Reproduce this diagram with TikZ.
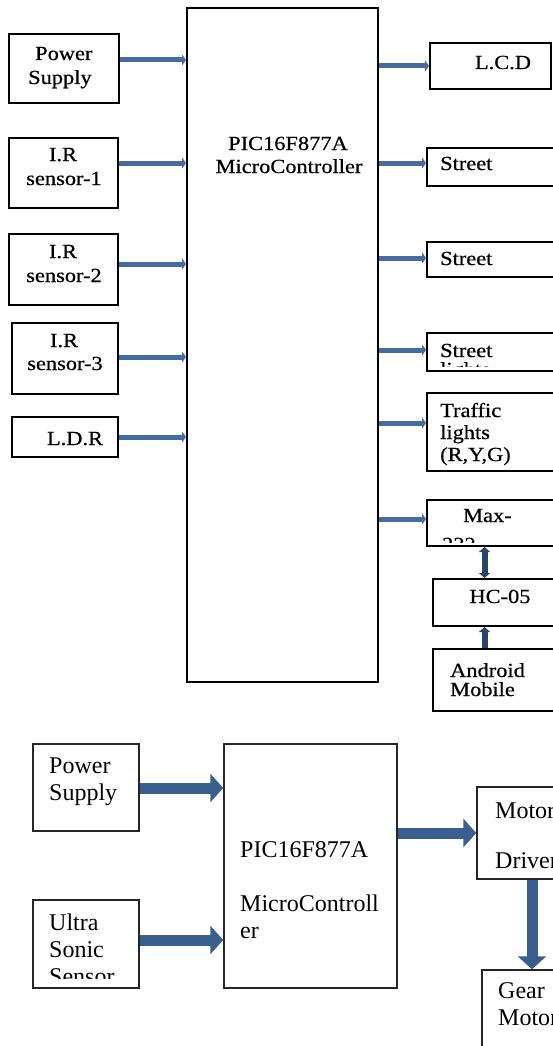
\documentclass[tikz,border=0pt]{standalone}
\usepackage{fontspec}
\setmainfont{Liberation Serif}
\newfontfamily\topf[FakeStretch=1.12,FakeBold=0.6]{Liberation Serif}
\usetikzlibrary{arrows.meta}
\definecolor{cTop}{RGB}{68,108,158}
\definecolor{cBot}{RGB}{58,94,142}
\definecolor{cDark}{RGB}{42,68,104}
\begin{document}
\begin{tikzpicture}[x=1pt,y=-1pt,
  tbox/.style={draw=black,line width=2pt,inner sep=0pt,rectangle},
  bbox/.style={draw=black!85,line width=1.4pt,inner sep=0pt,rectangle},
  ttext/.style={font=\topf\fontsize{20}{22.5}\selectfont,inner sep=0pt},
  btext/.style={font=\fontsize{24}{27}\selectfont,inner sep=0pt,anchor=base west},
  tconn/.style={line width=5pt,cTop,-{Triangle[length=4pt,width=11pt]}},
  vconnb/.style={line width=6pt,cDark,{Triangle[length=5pt,width=11pt]}-{Triangle[length=5pt,width=11pt]}},
  vconn/.style={line width=6pt,cDark,-{Triangle[length=5pt,width=11pt]}},
  bconn/.style={line width=11pt,cBot,-{Triangle[length=13pt,width=28pt]}}]
\useasboundingbox (0,0) rectangle (553,1046);
\clip (0,0) rectangle (553,1046);

% ---------- top diagram boxes ----------
\node[tbox,minimum width=191pt,minimum height=674pt] (mcu) at (282.5,345) {};
\node[tbox,minimum width=110pt,minimum height=69pt] (ps) at (64,68.5) {};
\node[tbox,minimum width=109pt,minimum height=70pt] (ir1) at (63.5,173) {};
\node[tbox,minimum width=109pt,minimum height=71pt] (ir2) at (63.5,269.5) {};
\node[tbox,minimum width=106pt,minimum height=71pt] (ir3) at (65,358.5) {};
\node[tbox,minimum width=106pt,minimum height=40pt] (ldr) at (65,437) {};
\node[tbox,minimum width=121pt,minimum height=46pt] (lcd) at (490.5,66) {};
\node[tbox,minimum width=133pt,minimum height=38pt] (st1) at (493.5,167) {};
\node[tbox,minimum width=133pt,minimum height=35pt] (st2) at (493.5,259.5) {};
\node[tbox,minimum width=133pt,minimum height=38pt] (st3) at (493.5,352) {};
\node[tbox,minimum width=133pt,minimum height=78pt] (tl) at (493.5,432) {};
\node[tbox,minimum width=133pt,minimum height=46pt] (max) at (493.5,523) {};
\node[tbox,minimum width=127pt,minimum height=47pt] (hc) at (496.5,602.5) {};
\node[tbox,minimum width=127pt,minimum height=62pt] (and) at (496.5,680) {};

% ---------- top diagram texts ----------
\node[ttext,anchor=base west] (pst1) at (35,60) {Power};
\node[ttext,anchor=base west] (pst2) at (28,84) {Supply};
\node[ttext,anchor=base] (ir1a) at (63,161) {I.R};
\node[ttext,anchor=base] (ir1b) at (64,185) {sensor-1};
\node[ttext,anchor=base] (ir2a) at (63,258) {I.R};
\node[ttext,anchor=base] (ir2b) at (64,282) {sensor-2};
\node[ttext,anchor=base] (ir3a) at (64,347) {I.R};
\node[ttext,anchor=base] (ir3b) at (65,370) {sensor-3};
\node[ttext,anchor=base] (ldrt) at (75,445) {L.D.R};
\node[ttext,anchor=base] (lcdt) at (503,69) {L.C.D};
\node[ttext,anchor=base] (mcua) at (288,150) {PIC16F877A};
\node[ttext,anchor=base] (mcub) at (289,173) {MicroController};
\node[ttext,anchor=base west] (st1t) at (440,170) {Street};
\node[ttext,anchor=base west] (st2t) at (440,265) {Street};
\node[ttext,anchor=base west] (st3t) at (440,357) {Street};
\begin{scope}
  \clip (428,360) rectangle (553,366);
  \node[ttext,anchor=base west] (st3u) at (440,376) {lights};
\end{scope}
\node[ttext,anchor=base west] (tla) at (440,417) {Traffic};
\node[ttext,anchor=base west] (tlb) at (440,439) {lights};
\node[ttext,anchor=base west] (tlc) at (440,461) {(R,Y,G)};
\node[ttext,anchor=base west] (maxa) at (463,522) {Max-};
\begin{scope}
  \clip (428,525) rectangle (553,542);
  \node[ttext,anchor=base west] (maxb) at (442,551) {232};
\end{scope}
\node[ttext,anchor=base] (hct) at (500,603) {HC-05};
\node[ttext,anchor=base west] (anda) at (450,677) {Android};
\node[ttext,anchor=base west] (andb) at (450,696) {Mobile};

% ---------- top connectors ----------
\coordinate (l1) at (0,60);
\coordinate (l2) at (0,163);
\coordinate (l3) at (0,264);
\coordinate (l4) at (0,357);
\coordinate (l5) at (0,437);
\coordinate (r1) at (0,66);
\coordinate (r2) at (0,163);
\coordinate (r3) at (0,258);
\coordinate (r4) at (0,350);
\coordinate (r5) at (0,423);
\coordinate (r6) at (0,519);
\coordinate (vx) at (484.5,0);
\draw[tconn] (ps.east |- l1) -- (mcu.west |- l1);
\draw[tconn] (ir1.east |- l2) -- (mcu.west |- l2);
\draw[tconn] (ir2.east |- l3) -- (mcu.west |- l3);
\draw[tconn] (ir3.east |- l4) -- (mcu.west |- l4);
\draw[tconn] (ldr.east |- l5) -- (mcu.west |- l5);
\draw[tconn] (mcu.east |- r1) -- (lcd.west |- r1);
\draw[tconn] (mcu.east |- r2) -- (st1.west |- r2);
\draw[tconn] (mcu.east |- r3) -- (st2.west |- r3);
\draw[tconn] (mcu.east |- r4) -- (st3.west |- r4);
\draw[tconn] (mcu.east |- r5) -- (tl.west |- r5);
\draw[tconn] (mcu.east |- r6) -- (max.west |- r6);
\draw[vconnb] (max.south -| vx) -- (hc.north -| vx);
\draw[vconn] (and.north -| vx) -- (hc.south -| vx);

% ---------- bottom diagram ----------
\node[bbox,minimum width=106pt,minimum height=87pt] (ps2) at (86,787.5) {};
\node[bbox,minimum width=106pt,minimum height=88pt] (us) at (86,944) {};
\node[bbox,minimum width=173pt,minimum height=244pt] (mcu2) at (310.5,866) {};
\node[bbox,minimum width=83pt,minimum height=92pt] (md) at (518.5,833) {};
\node[bbox,minimum width=78pt,minimum height=90pt] (gm) at (521,1015) {};

\node[btext] (ps2a) at (49,773) {Power};
\node[btext] (ps2b) at (49,800) {Supply};
\node[btext] (usa) at (49,930) {Ultra};
\node[btext] (usb) at (49,957) {Sonic};
\begin{scope}
  \clip (34,960) rectangle (138,978);
  \node[btext] (usc) at (49,984) {Sensor};
\end{scope}
\node[btext] (m2a) at (240,857) {PIC16F877A};
\node[btext] (m2b) at (240,911) {MicroControll};
\node[btext] (m2c) at (240,938) {er};
\node[btext] (mda) at (495,818) {Motor};
\node[btext] (mdb) at (495,868) {Driver};
\node[btext] (gma) at (498,998) {Gear};
\node[btext] (gmb) at (498,1025) {Motor};

\coordinate (b1) at (0,788);
\coordinate (b2) at (0,940);
\coordinate (b3) at (0,833);
\coordinate (bx) at (532,0);
\draw[bconn] (ps2.east |- b1) -- (mcu2.west |- b1);
\draw[bconn] (us.east |- b2) -- (mcu2.west |- b2);
\draw[bconn] (mcu2.east |- b3) -- (md.west |- b3);
\draw[bconn] (md.south -| bx) -- (gm.north -| bx);
\end{tikzpicture}
\end{document}
